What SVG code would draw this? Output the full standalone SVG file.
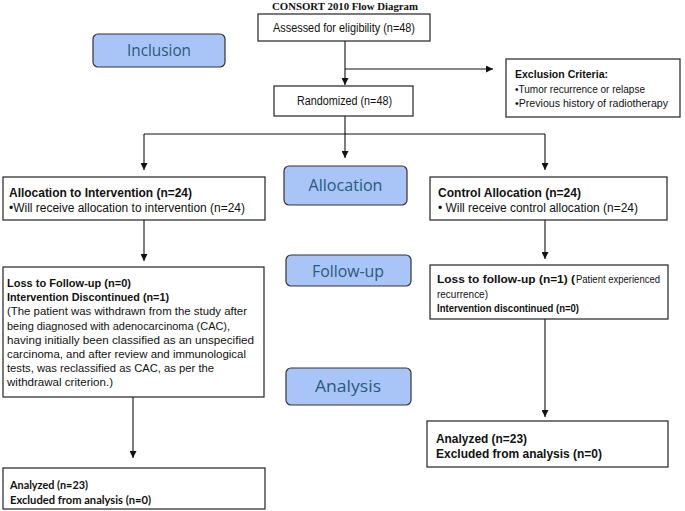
<svg xmlns="http://www.w3.org/2000/svg" width="685" height="511" viewBox="0 0 685 511">
<style>
.box{fill:#fff;stroke:#222;stroke-width:1.2}
.stage{fill:#a9c5f7;stroke:#333;stroke-width:1.2}
.stxt{font-family:"Open Sans","Liberation Sans",sans-serif;font-size:16.5px;fill:#285a79;text-anchor:middle}
.t{font-family:"Liberation Sans",Arial,sans-serif;font-size:12.3px;fill:#111}
.s{font-size:11.6px}
.x{font-size:11px}
.b{font-weight:bold}
.c{font-family:Lato,"Liberation Sans",sans-serif;font-size:11.5px;font-weight:bold;fill:#111}
.ln{fill:none;stroke:#111;stroke-width:1.1}
</style>
<defs>
<marker id="ah" viewBox="0 0 8 8" refX="8" refY="4" markerWidth="7" markerHeight="7" markerUnits="userSpaceOnUse" orient="auto">
<path d="M0,0 L8,4 L0,8 z" fill="#111"/>
</marker>
</defs>
<text x="345" y="10" text-anchor="middle" font-family="'Liberation Serif','Times New Roman',serif" font-weight="bold" font-size="10.5" fill="#111" textLength="146" lengthAdjust="spacingAndGlyphs">CONSORT 2010 Flow Diagram</text>

<g id="connectors">
<path class="ln" d="M345,41 V85" marker-end="url(#ah)"/>
<path class="ln" d="M345,69 H493" marker-end="url(#ah)"/>
<path class="ln" d="M345,116 V158" marker-end="url(#ah)"/>
<path class="ln" d="M144,134 H545"/>
<path class="ln" d="M144,134 V170" marker-end="url(#ah)"/>
<path class="ln" d="M545,134 V170" marker-end="url(#ah)"/>
<path class="ln" d="M144,220 V261" marker-end="url(#ah)"/>
<path class="ln" d="M545,220 V259" marker-end="url(#ah)"/>
<path class="ln" d="M545,319 V417" marker-end="url(#ah)"/>
<path class="ln" d="M133,397 V458" marker-end="url(#ah)"/>
</g>

<g id="inclusion">
<rect class="stage" x="93" y="34" width="132" height="33" rx="5"/>
<text class="stxt" x="159" y="56" textLength="64" lengthAdjust="spacingAndGlyphs">Inclusion</text>
</g>
<g id="allocation">
<rect class="stage" x="284" y="166" width="123" height="39" rx="5"/>
<text class="stxt" x="345.5" y="191" textLength="74" lengthAdjust="spacingAndGlyphs">Allocation</text>
</g>
<g id="followup">
<rect class="stage" x="286" y="255" width="125" height="31" rx="5"/>
<text class="stxt" x="348" y="277" textLength="72" lengthAdjust="spacingAndGlyphs">Follow-up</text>
</g>
<g id="analysis">
<rect class="stage" x="286" y="368" width="125" height="37" rx="5"/>
<text class="stxt" x="348" y="392" textLength="66" lengthAdjust="spacingAndGlyphs">Analysis</text>
</g>

<g id="assessed">
<rect class="box" x="258" y="14" width="172" height="27"/>
<text class="t" x="273" y="32" textLength="142" lengthAdjust="spacingAndGlyphs">Assessed for eligibility (n=48)</text>
</g>
<g id="exclusion">
<rect class="box" x="506" y="59" width="174" height="58"/>
<text class="t x b" x="515" y="78" textLength="93" lengthAdjust="spacingAndGlyphs">Exclusion Criteria:</text>
<text class="t x" x="515" y="93" textLength="130" lengthAdjust="spacingAndGlyphs">•Tumor recurrence or relapse</text>
<text class="t x" x="515" y="107" textLength="153" lengthAdjust="spacingAndGlyphs">•Previous history of radiotherapy</text>
</g>
<g id="randomized">
<rect class="box" x="274" y="86" width="139" height="30"/>
<text class="t" x="297" y="105" textLength="95" lengthAdjust="spacingAndGlyphs">Randomized (n=48)</text>
</g>

<g id="alloc-intervention">
<rect class="box" x="3" y="177" width="262" height="43"/>
<text class="t b" x="9" y="197" textLength="183" lengthAdjust="spacingAndGlyphs">Allocation to Intervention (n=24)</text>
<text class="t" x="9" y="212" textLength="236" lengthAdjust="spacingAndGlyphs">•Will receive allocation to intervention (n=24)</text>
</g>
<g id="alloc-control">
<rect class="box" x="430" y="177" width="237" height="43"/>
<text class="t b" x="438" y="197" textLength="143" lengthAdjust="spacingAndGlyphs">Control Allocation (n=24)</text>
<text class="t" x="438" y="212" textLength="200" lengthAdjust="spacingAndGlyphs">• Will receive control allocation (n=24)</text>
</g>

<g id="followup-intervention">
<rect class="box" x="3" y="267" width="261" height="130"/>
<text class="t s b" x="7" y="287" textLength="124" lengthAdjust="spacingAndGlyphs">Loss to Follow-up (n=0)</text>
<text class="t s b" x="7" y="301" textLength="162" lengthAdjust="spacingAndGlyphs">Intervention Discontinued (n=1)</text>
<text class="t s" x="7" y="315" textLength="240" lengthAdjust="spacingAndGlyphs">(The patient was withdrawn from the study after</text>
<text class="t s" x="7" y="330" textLength="223" lengthAdjust="spacingAndGlyphs">being diagnosed with adenocarcinoma (CAC),</text>
<text class="t s" x="7" y="344" textLength="247" lengthAdjust="spacingAndGlyphs">having initially been classified as an unspecified</text>
<text class="t s" x="7" y="358" textLength="239" lengthAdjust="spacingAndGlyphs">carcinoma, and after review and immunological</text>
<text class="t s" x="7" y="372" textLength="207" lengthAdjust="spacingAndGlyphs">tests, was reclassified as CAC, as per the</text>
<text class="t s" x="7" y="386" textLength="106" lengthAdjust="spacingAndGlyphs">withdrawal criterion.)</text>
</g>
<g id="followup-control">
<rect class="box" x="430" y="265" width="238" height="54"/>
<text class="t x b" x="437" y="283" textLength="138" lengthAdjust="spacingAndGlyphs">Loss to follow-up (n=1) (</text>
<text class="t x" x="576" y="283" textLength="84" lengthAdjust="spacingAndGlyphs">Patient experienced</text>
<text class="t x" x="437" y="297.5" textLength="51" lengthAdjust="spacingAndGlyphs">recurrence)</text>
<text class="t x b" x="437" y="311.5" textLength="142" lengthAdjust="spacingAndGlyphs">Intervention discontinued (n=0)</text>
</g>

<g id="analyzed-control">
<rect class="box" x="427" y="421" width="241" height="46"/>
<text class="t b" x="436" y="443" textLength="91" lengthAdjust="spacingAndGlyphs">Analyzed (n=23)</text>
<text class="t b" x="436" y="458" textLength="166" lengthAdjust="spacingAndGlyphs">Excluded from analysis (n=0)</text>
</g>
<g id="analyzed-intervention">
<rect class="box" x="3" y="468" width="262" height="41"/>
<text class="c" x="10" y="489" textLength="78" lengthAdjust="spacingAndGlyphs">Analyzed (n=23)</text>
<text class="c" x="10" y="504" textLength="141" lengthAdjust="spacingAndGlyphs">Excluded from analysis (n=0)</text>
</g>
</svg>
